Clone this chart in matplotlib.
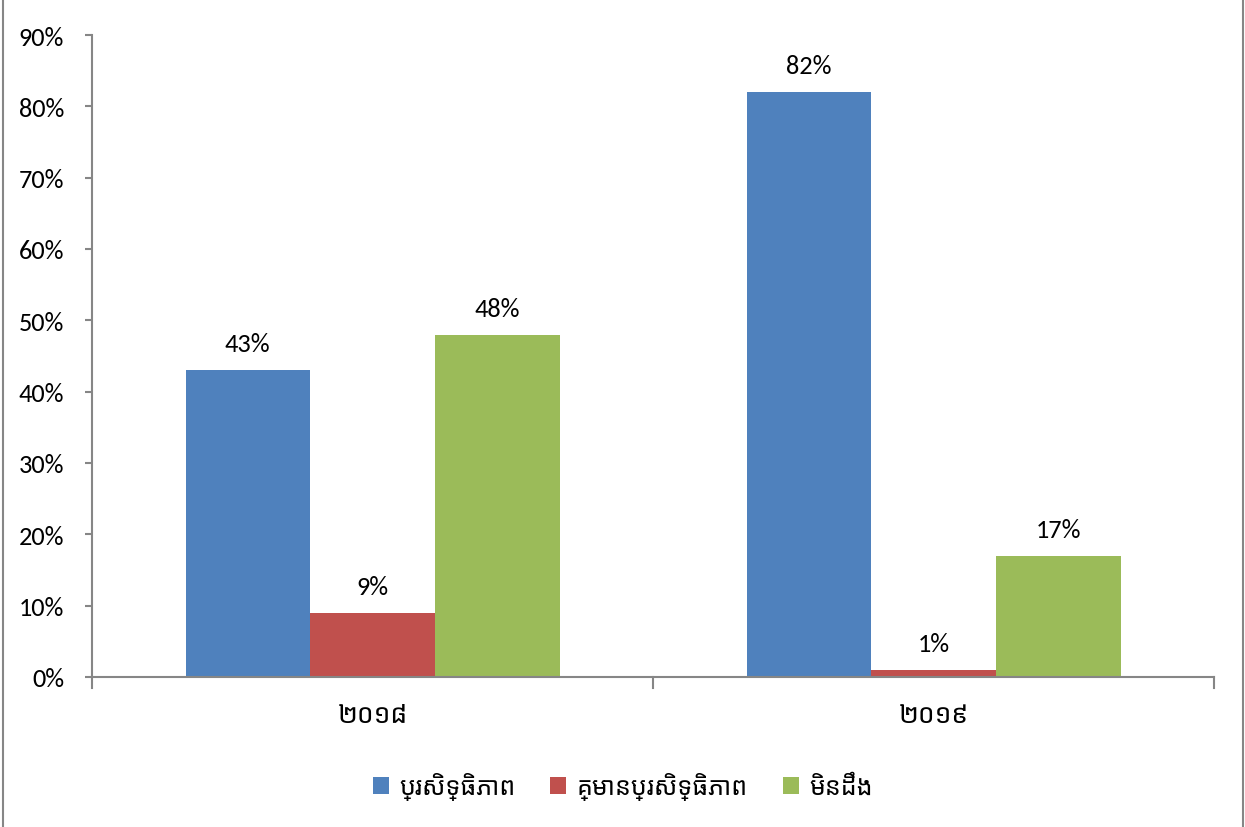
import matplotlib
matplotlib.use("Agg")
import matplotlib.pyplot as plt
from matplotlib.patches import Rectangle
import numpy as np

# Survey results per year
years = ["២០១៨", "២០១៩"]
series_names = ["ប្រសិទ្ធិភាព", "គ្មានប្រសិទ្ធិភាព", "មិនដឹង"]
effective = [43, 82]
not_effective = [9, 1]
unknown = [48, 17]
yticks = [0, 10, 20, 30, 40, 50, 60, 70, 80, 90]

COLORS = ["#4F81BD", "#C0504D", "#9BBB59"]
AXIS_GRAY = "#868686"

# Latin text in Carlito, Khmer falls through to Noto Sans Khmer
plt.rcParams["font.family"] = ["Carlito", "Noto Sans Khmer", "DejaVu Sans"]

fig = plt.figure(figsize=(12.45, 8.28), dpi=100)
ax = fig.add_axes([92 / 1245, 1 - 678 / 828, (1214 - 92) / 1245, (678 - 36) / 828])

x = np.arange(len(years))
width = 1 / 4.5
values = [effective, not_effective, unknown]
for i, (vals, name, col) in enumerate(zip(values, series_names, COLORS)):
    bars = ax.bar(x + (i - 1) * width, vals, width, color=col, label=name, zorder=2)
    for b, v in zip(bars, vals):
        ax.annotate(f"{v}%", (b.get_x() + b.get_width() / 2, v),
                    xytext=(0, 19), textcoords="offset points",
                    ha="center", va="center", fontsize=19, color="black")

ax.set_xlim(-0.5, len(years) - 0.5)
ax.set_ylim(0, 90)
ax.set_yticks(yticks)
ax.set_yticklabels([f"{t}%" for t in yticks], fontsize=19)
ax.set_xticks(x)
ax.set_xticklabels(years, fontsize=19)
ax.tick_params(axis="x", length=0, pad=19)
ax.tick_params(axis="y", length=5, color=AXIS_GRAY, width=1.5, pad=15)

# category separators on the x axis
for b in np.arange(-0.5, len(years), 1.0):
    ax.plot([b, b], [0, -0.017], transform=ax.get_xaxis_transform(),
            color=AXIS_GRAY, lw=1.5, clip_on=False)

for side in ["top", "right"]:
    ax.spines[side].set_visible(False)
for side in ["left", "bottom"]:
    ax.spines[side].set_color(AXIS_GRAY)
    ax.spines[side].set_linewidth(1.5)

leg = fig.legend(loc="center", bbox_to_anchor=(0.5, 1 - 787 / 828), ncol=3,
                 frameon=False, fontsize=18, handlelength=0.65, handleheight=0.65,
                 handletextpad=0.4, columnspacing=1.4)

# chart border
fig.add_artist(Rectangle((3 / 1245, -0.01), 1240 / 1245, 1.02,
                         transform=fig.transFigure, fill=False,
                         edgecolor=AXIS_GRAY, lw=1.5))

fig.savefig("out.png", dpi=100)
